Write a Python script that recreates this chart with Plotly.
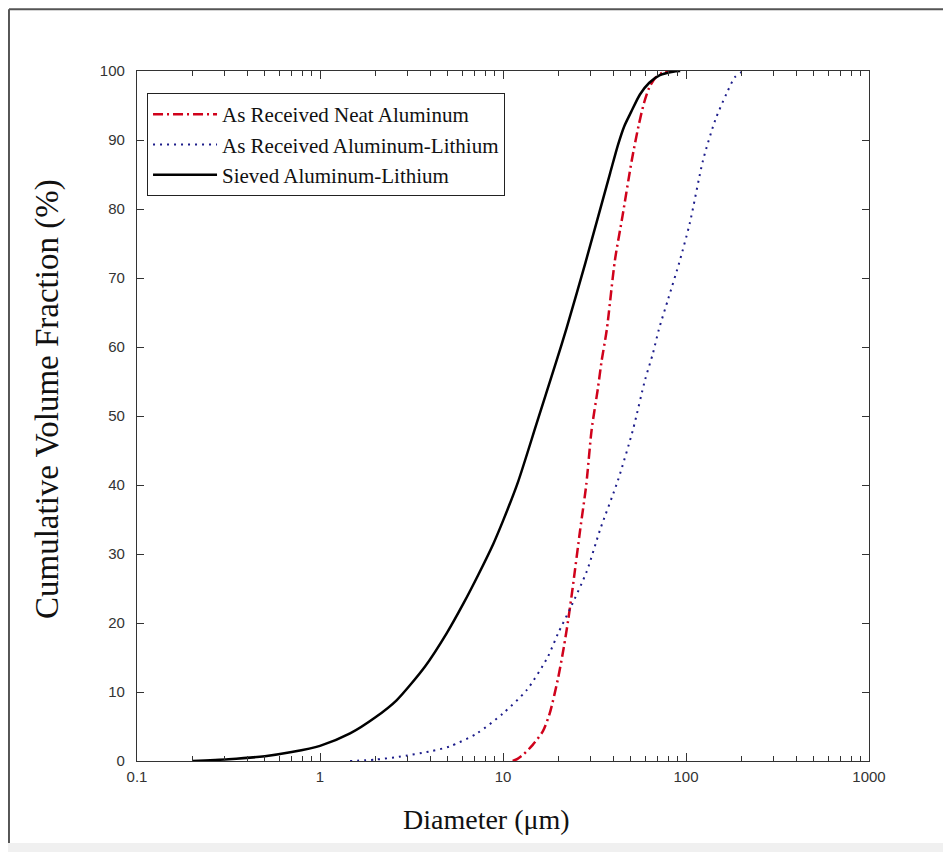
import plotly.graph_objects as go

# ---- data ----
neat_x = [11.3, 12, 13, 14.5, 16.5, 18, 20, 21.5, 22.7, 24, 26.4, 28.5, 30.5, 33, 34.6, 36.9,
          40.9, 45, 50.5, 55, 59, 63, 68, 75, 85]
neat_y = [0, 0.3, 1, 2.3, 4.3, 6.9, 12, 16.5, 20.4, 25, 33.5, 40, 48, 54, 58, 62.5,
          72.6, 79, 87, 92, 95.4, 97.6, 99, 99.8, 100]

alli_x = [1.46, 2, 2.7, 4, 5.1, 7.2, 10, 13.5, 17.5, 20, 23.2, 28.7, 33.9, 42.5, 51.3, 59.7,
          66, 71, 80, 92.7, 105, 124, 145, 167, 185, 200, 210]
alli_y = [0, 0.2, 0.6, 1.4, 2.1, 4.0, 6.9, 10.3, 15, 18.5, 22, 27.5, 33.5, 40.7, 48, 55.2,
          59.1, 62.5, 67, 72.6, 78, 87.1, 93, 96.8, 99.1, 99.8, 100]

sieved_x = [0.2, 0.316, 0.5, 0.7, 1, 1.46, 2, 2.62, 3.75, 4.92, 6.07, 7.33, 8.86, 10,
            12.1, 15.3, 19.5, 22.3, 28.2, 38.5, 42.5, 46, 50, 56, 63, 72, 85, 93]
sieved_y = [0, 0.25, 0.7, 1.3, 2.2, 4.0, 6.3, 8.8, 13.7, 18.5, 22.8, 27, 31.5, 34.8,
            40.5, 49, 57.8, 62.8, 72.2, 85.2, 89.3, 92, 94, 96.6, 98.3, 99.4, 99.9, 100]

x_tickvals = [0.1, 1, 10, 100, 1000]
x_ticktext = ["0.1", "1", "10", "100", "1000"]
x_minorvals = [m * d for d in (0.1, 1, 10, 100) for m in range(2, 10)]
y_tickvals = [0, 10, 20, 30, 40, 50, 60, 70, 80, 90, 100]

names = ["As Received Neat Aluminum", "As Received Aluminum-Lithium", "Sieved Aluminum-Lithium"]
x_title = "Diameter (μm)"
y_title = "Cumulative Volume Fraction (%)"

serif = "Liberation Serif, Times New Roman, serif"
axis_col = "#333333"

fig = go.Figure()
fig.add_trace(go.Scatter(x=neat_x, y=neat_y, mode="lines", name=names[0],
                         line=dict(color="#d0021b", width=2.5, dash="10px,4px,2px,4px",
                                   shape="spline", smoothing=0.7)))
fig.add_trace(go.Scatter(x=alli_x, y=alli_y, mode="lines", name=names[1],
                         line=dict(color="#1c1c8a", width=2, dash="2px,5px",
                                   shape="spline", smoothing=0.7)))
fig.add_trace(go.Scatter(x=sieved_x, y=sieved_y, mode="lines", name=names[2],
                         line=dict(color="#000000", width=2.5, shape="spline", smoothing=0.7)))
# empty trace so the top (mirror) axis with its minor ticks is drawn
fig.add_trace(go.Scatter(x=[], y=[], xaxis="x2", showlegend=False, hoverinfo="skip"))

tickfont = dict(family="Liberation Sans, Arial", size=15, color="#333333")
minor = dict(ticks="inside", ticklen=5, tickwidth=1.3, tickcolor=axis_col, tickmode="array",
             tickvals=x_minorvals, showgrid=False)

# figure is placed 8px from the page's top-left corner; sizes chosen so the plot area
# sits where the reference has it
fig.update_layout(
    width=943, height=844,
    margin=dict(l=129, r=82, t=63, b=91, autoexpand=False),
    paper_bgcolor="white", plot_bgcolor="white",
    showlegend=True,
    legend=dict(x=0.0137, y=0.968, xanchor="left", yanchor="top",
                bgcolor="white", bordercolor="#222222", borderwidth=1,
                font=dict(family=serif, size=21, color="#111111"),
                tracegroupgap=0, itemwidth=64),
    xaxis=dict(type="log", range=[-1, 3], tickvals=x_tickvals, ticktext=x_ticktext,
               ticklen=8, tickwidth=1.3, ticks="inside", tickcolor=axis_col, minor=minor,
               showline=True, linecolor=axis_col, linewidth=1.3, mirror="ticks",
               showgrid=False, zeroline=False, tickfont=tickfont, ticklabelstandoff=2),
    xaxis2=dict(type="log", range=[-1, 3], overlaying="x", side="top",
                tickvals=x_tickvals, showticklabels=False, ticklen=8, tickwidth=1.3,
                ticks="inside", tickcolor=axis_col, minor=minor, showline=False,
                showgrid=False, zeroline=False),
    yaxis=dict(range=[0, 100], tickvals=y_tickvals, ticklen=7, tickwidth=1.3, ticks="inside",
               tickcolor=axis_col, mirror="ticks", showline=True, linecolor=axis_col,
               linewidth=1.3, showgrid=False, zeroline=False, tickfont=tickfont,
               ticklabelstandoff=8),
    annotations=[
        dict(text=x_title, xref="paper", yref="paper", x=0.478, y=-0.0855,
             xanchor="center", yanchor="middle", showarrow=False,
             font=dict(family=serif, size=28, color="#111111")),
        dict(text=y_title, xref="paper", yref="paper", x=-0.123, y=0.5246,
             xanchor="center", yanchor="middle", showarrow=False, textangle=-90,
             font=dict(family=serif, size=33, color="#111111")),
    ],
    shapes=[
        dict(type="rect", xref="paper", yref="paper", x0=-0.19, x1=1.12, y0=-0.1188, y1=-0.135,
             fillcolor="#f0f0f0", line=dict(width=0), layer="below"),
        dict(type="line", xref="paper", yref="paper", x0=-0.1749, x1=1.12, y0=1.0895, y1=1.0895,
             line=dict(color="#555555", width=2)),
        dict(type="line", xref="paper", yref="paper", x0=-0.1749, x1=-0.1749, y0=1.0895, y1=-0.1188,
             line=dict(color="#555555", width=2)),
    ],
)

fig.write_html("out.html")
